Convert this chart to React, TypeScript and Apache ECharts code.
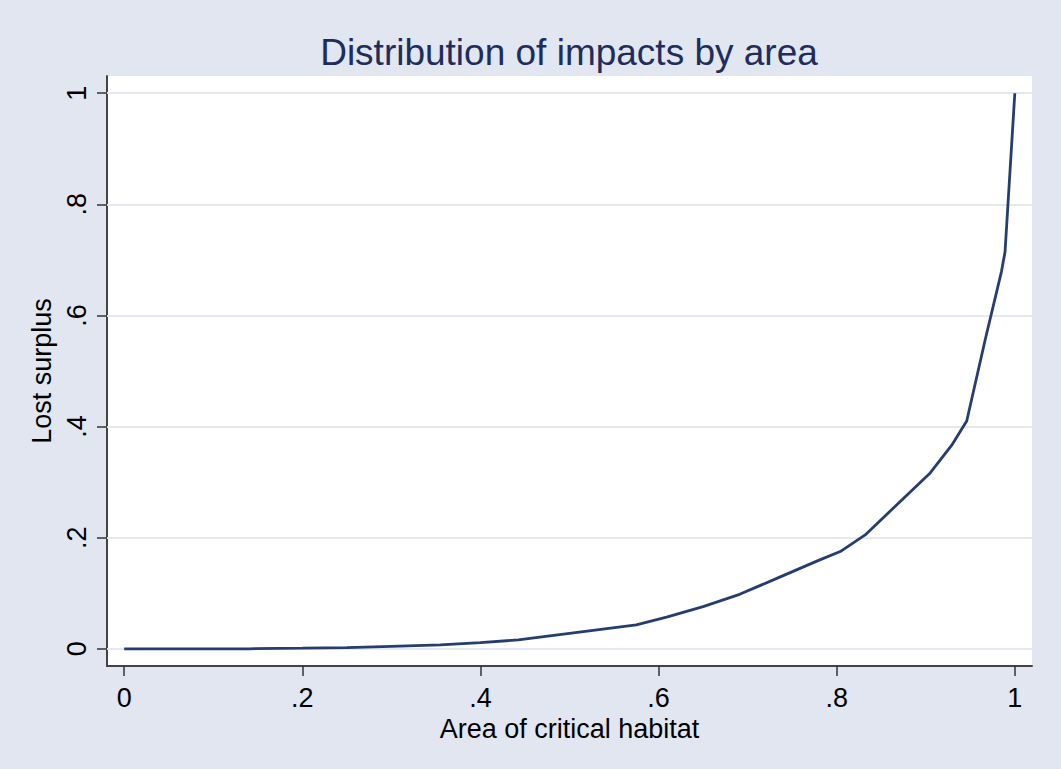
import React, { useEffect, useRef } from "react";
import * as echarts from "echarts";

const areaShare: number[] = [
  0, 0.05, 0.1, 0.14, 0.2, 0.25, 0.3, 0.355, 0.4, 0.4425, 0.5, 0.575, 0.609,
  0.65, 0.691, 0.736, 0.781, 0.804, 0.832, 0.905, 0.929, 0.946, 0.967, 0.985,
  0.989, 1.0,
];
const lostSurplus: number[] = [
  0, 0, 0, 0, 0.001, 0.002, 0.0045, 0.0072, 0.011, 0.016, 0.0277, 0.043, 0.057,
  0.076, 0.098, 0.129, 0.16, 0.175, 0.205, 0.3165, 0.366, 0.41, 0.558, 0.679,
  0.714, 1.0,
];
const tickValues: number[] = [0, 0.2, 0.4, 0.6, 0.8, 1];

const fmt = (v: number) => {
  if (v === 0) return "0";
  if (v === 1) return "1";
  return String(Number(v.toFixed(1))).replace(/^0/, "");
};

const FONT = "'Liberation Sans', Arial, Helvetica, sans-serif";

export default function App() {
  const ref = useRef<HTMLDivElement>(null);
  useEffect(() => {
    if (!ref.current) return;
    const chart = echarts.init(ref.current, undefined, { renderer: "svg" });
    const data = areaShare.map((x, i) => [x, lostSurplus[i]]);
    chart.setOption({
      animation: false,
      backgroundColor: "#e1e6f0",
      textStyle: { fontFamily: FONT },
      title: {
        text: "Distribution of impacts by area",
        left: 569,
        top: 34,
        padding: 0,
        textAlign: "center",
        textStyle: {
          fontFamily: FONT,
          fontSize: 37,
          fontWeight: "normal",
          color: "#1e2d5c",
        },
      },
      grid: {
        left: 107,
        right: 29,
        top: 76,
        bottom: 103,
        show: true,
        backgroundColor: "#ffffff",
        borderWidth: 0,
        containLabel: false,
      },
      xAxis: {
        type: "value",
        min: -0.0193,
        max: 1.0193,
        name: "Area of critical habitat",
        nameLocation: "middle",
        nameGap: 42,
        nameTextStyle: { fontFamily: FONT, fontSize: 27, color: "#000" },
        axisLine: {
          show: true,
          onZero: false,
          lineStyle: { color: "#444", width: 2 },
        },
        axisTick: {
          show: true,
          length: 10,
          customValues: tickValues,
          lineStyle: { color: "#333", width: 1.5 },
        },
        axisLabel: {
          customValues: tickValues,
          formatter: fmt,
          margin: 18,
          fontFamily: FONT,
          fontSize: 27,
          color: "#000",
        },
        splitLine: { show: false },
      },
      yAxis: {
        type: "value",
        min: -0.031,
        max: 1.031,
        name: "Lost surplus",
        nameLocation: "middle",
        nameRotate: 90,
        nameGap: 41,
        nameTextStyle: { fontFamily: FONT, fontSize: 27, color: "#000" },
        axisLine: {
          show: true,
          onZero: false,
          lineStyle: { color: "#444", width: 2 },
        },
        axisTick: {
          show: true,
          length: 10,
          customValues: tickValues,
          lineStyle: { color: "#333", width: 1.5 },
        },
        axisLabel: {
          customValues: tickValues,
          formatter: fmt,
          rotate: 90,
          margin: 17,
          fontFamily: FONT,
          fontSize: 27,
          color: "#000",
        },
        splitLine: { show: false },
      },
      series: [
        {
          type: "line",
          data: [],
          silent: true,
          z: 1,
          markLine: {
            silent: true,
            z: 1,
            symbol: "none",
            label: { show: false },
            lineStyle: { color: "#e3e8f2", width: 2, type: "solid" },
            emphasis: { disabled: true },
            data: tickValues.map((v) => ({ yAxis: v })),
          },
        },
        {
          type: "line",
          data,
          z: 3,
          showSymbol: false,
          symbol: "none",
          smooth: false,
          lineStyle: { color: "#263e6e", width: 2.8 },
          silent: true,
        },
      ],
    });
    return () => chart.dispose();
  }, []);
  return (
    <div
      ref={ref}
      style={{ position: "fixed", left: 0, top: 0, width: 1061, height: 769 }}
    />
  );
}
